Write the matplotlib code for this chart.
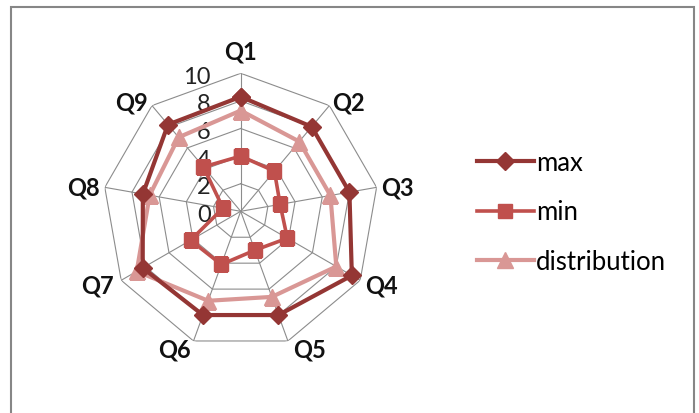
import numpy as np
import matplotlib.pyplot as plt
from matplotlib.patches import Rectangle

categories = ['Q1', 'Q2', 'Q3', 'Q4', 'Q5', 'Q6', 'Q7', 'Q8', 'Q9']
max_vals = [8.3, 8.0, 8.0, 9.3, 8.0, 8.0, 8.2, 7.2, 8.2]
min_vals = [4.0, 3.8, 2.9, 3.9, 3.0, 4.1, 4.2, 1.3, 4.2]
dist_vals = [7.3, 6.6, 6.6, 8.0, 6.6, 6.9, 8.7, 6.7, 7.0]
rings = [2, 4, 6, 8, 10]
ring_labels = ['0', '2', '4', '6', '8', '10']

plt.rcParams['font.family'] = ['Lato', 'DejaVu Sans']

W, H = 699, 414
fig = plt.figure(figsize=(W / 100, H / 100), dpi=100)
cx, cy, R = 240.7, 212.3, 138
ax = fig.add_axes([(cx - R) / W, (H - cy - R) / H, 2 * R / W, 2 * R / H], projection='polar')
ax.set_theta_zero_location('N')
ax.set_theta_direction(-1)
ax.set_ylim(0, 10)
ax.grid(False)
ax.spines['polar'].set_visible(False)
ax.set_yticks([])
ax.set_xticks([])

n = len(categories)
theta = np.linspace(0, 2 * np.pi, n, endpoint=False)
closed = np.append(theta, theta[0])

grid_col = '#8c8c8c'
for r in rings:
    ax.plot(closed, [r] * (n + 1), color=grid_col, lw=0.8, zorder=1)
for t in theta:
    ax.plot([t, t], [0, 10], color=grid_col, lw=0.8, zorder=1)

# radial labels on the left of the Q1 spoke
for i, lab in enumerate(ring_labels):
    ax.annotate(lab, xy=(0, i * 2), xytext=(-30, -3), textcoords='offset pixels',
                ha='right', va='center', fontsize=17, color='#222222')

# category labels, placed next to the outer vertex like Excel does
label_pos = [((0, 22), 'center'), ((3, 4), 'left'), ((5, 0), 'left'),
             ((5, -5), 'left'), ((5, -8), 'left'), ((-3, -8), 'right'),
             ((-7, -5), 'right'), ((-5, 0), 'right'), ((-4, 4), 'right')]
for t, lab, (off, ha) in zip(theta, categories, label_pos):
    ax.annotate(lab, xy=(t, 10), xytext=off, textcoords='offset pixels',
                ha=ha, va='center', fontsize=17, fontweight='bold', color='#111111')

def close(v):
    return list(v) + [v[0]]

ax.plot(closed, close(dist_vals), color='#d99795', lw=3, marker='^', ms=11,
        label='distribution', zorder=3)
ax.plot(closed, close(min_vals), color='#c0504d', lw=2.6, marker='s', ms=10,
        label='min', zorder=4)
ax.plot(closed, close(max_vals), color='#943634', lw=3, marker='D', ms=9.5,
        label='max', zorder=5)

handles, labels = ax.get_legend_handles_labels()
order = [2, 1, 0]
fig.legend([handles[i] for i in order], [labels[i] for i in order],
           loc='center left', bbox_to_anchor=(454 / W, (H - 213) / H), frameon=False,
           fontsize=18.5, handlelength=2.2, labelspacing=0.95, handletextpad=0.1)

fig.add_artist(Rectangle((11 / W, -0.1), 683 / W, 1.1 - 8 / H, transform=fig.transFigure,
                         fill=False, edgecolor='#868686', lw=1.5))

fig.savefig('out.png', dpi=100)
